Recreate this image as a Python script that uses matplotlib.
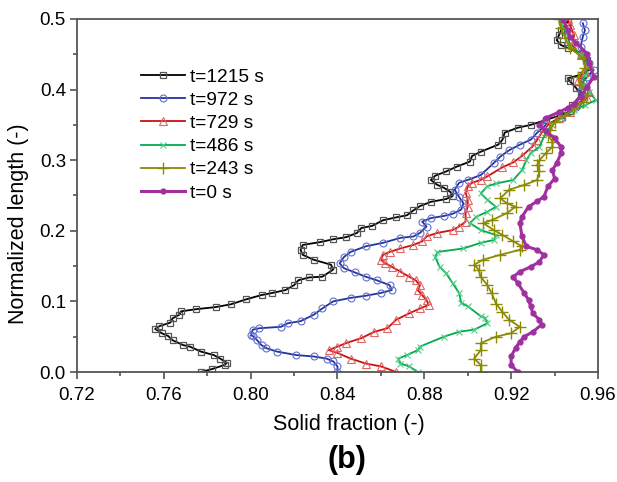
import numpy as np
import matplotlib
matplotlib.use("Agg")
import matplotlib.pyplot as plt
from matplotlib.ticker import MultipleLocator, FormatStrFormatter

plt.rcParams['font.family'] = ['Liberation Sans', 'DejaVu Sans']

# t = 1215 s
x_1215 = [0.777, 0.782, 0.788, 0.789, 0.786, 0.783, 0.777, 0.772, 0.769, 0.764,
          0.762, 0.759, 0.756, 0.758, 0.763, 0.764, 0.767, 0.768, 0.775, 0.784,
          0.791, 0.798, 0.805, 0.810, 0.816, 0.820, 0.822, 0.827, 0.833, 0.838,
          0.837, 0.829, 0.824, 0.823, 0.824, 0.832, 0.838, 0.844, 0.849, 0.851,
          0.856, 0.861, 0.867, 0.872, 0.875, 0.878, 0.883, 0.890, 0.893, 0.892,
          0.889, 0.886, 0.883, 0.885, 0.890, 0.895, 0.901, 0.902, 0.906, 0.914,
          0.916, 0.917, 0.923, 0.929, 0.936, 0.943, 0.947, 0.948, 0.952, 0.950,
          0.947, 0.946, 0.952, 0.956, 0.955, 0.952, 0.946, 0.943, 0.941, 0.942,
          0.943, 0.946]
y_1215 = [0.000, 0.004, 0.010, 0.013, 0.019, 0.024, 0.029, 0.036, 0.038, 0.045,
          0.051, 0.055, 0.061, 0.065, 0.070, 0.076, 0.081, 0.086, 0.089, 0.092,
          0.096, 0.103, 0.109, 0.112, 0.116, 0.123, 0.130, 0.134, 0.135, 0.145,
          0.152, 0.159, 0.166, 0.173, 0.180, 0.184, 0.188, 0.191, 0.197, 0.204,
          0.207, 0.215, 0.219, 0.222, 0.229, 0.235, 0.241, 0.245, 0.249, 0.255,
          0.261, 0.265, 0.272, 0.278, 0.284, 0.291, 0.298, 0.306, 0.312, 0.322,
          0.329, 0.339, 0.346, 0.350, 0.357, 0.364, 0.369, 0.378, 0.392, 0.402,
          0.412, 0.416, 0.421, 0.428, 0.442, 0.451, 0.459, 0.463, 0.470, 0.477,
          0.484, 0.496]

# t = 972 s
x_972 = [0.840, 0.840, 0.838, 0.835, 0.829, 0.821, 0.812, 0.807, 0.805, 0.803,
         0.801, 0.800, 0.801, 0.804, 0.814, 0.817, 0.823, 0.829, 0.833, 0.838,
         0.846, 0.853, 0.860, 0.865, 0.864, 0.858, 0.853, 0.848, 0.843, 0.841,
         0.843, 0.846, 0.853, 0.861, 0.869, 0.875, 0.878, 0.881, 0.879, 0.883,
         0.889, 0.893, 0.897, 0.898, 0.896, 0.894, 0.896, 0.900, 0.906, 0.912,
         0.915, 0.919, 0.924, 0.929, 0.932, 0.936, 0.943, 0.950, 0.953, 0.953,
         0.952, 0.953, 0.955, 0.958, 0.956, 0.953, 0.952, 0.953, 0.954, 0.953]
y_972 = [0.000, 0.008, 0.015, 0.019, 0.022, 0.024, 0.029, 0.034, 0.038, 0.045,
         0.051, 0.052, 0.060, 0.062, 0.064, 0.069, 0.072, 0.081, 0.090, 0.100,
         0.105, 0.108, 0.112, 0.116, 0.123, 0.130, 0.135, 0.141, 0.147, 0.154,
         0.163, 0.170, 0.178, 0.183, 0.190, 0.192, 0.197, 0.206, 0.213, 0.218,
         0.221, 0.224, 0.230, 0.239, 0.248, 0.258, 0.268, 0.272, 0.279, 0.296,
         0.305, 0.314, 0.322, 0.329, 0.339, 0.350, 0.360, 0.376, 0.381, 0.390,
         0.399, 0.411, 0.418, 0.428, 0.438, 0.447, 0.461, 0.475, 0.484, 0.494]

# t = 729 s
x_729 = [0.867, 0.860, 0.853, 0.846, 0.840, 0.836, 0.840, 0.844, 0.851, 0.857,
         0.863, 0.867, 0.873, 0.878, 0.882, 0.881, 0.879, 0.877, 0.878, 0.876,
         0.873, 0.869, 0.865, 0.862, 0.860, 0.861, 0.864, 0.869, 0.875, 0.879,
         0.881, 0.886, 0.893, 0.896, 0.899, 0.899, 0.900, 0.900, 0.899, 0.900,
         0.902, 0.906, 0.909, 0.916, 0.921, 0.925, 0.930, 0.932, 0.934, 0.937,
         0.942, 0.947, 0.949, 0.955, 0.956, 0.953, 0.951, 0.954, 0.956, 0.952,
         0.948, 0.949, 0.947, 0.946]
y_729 = [0.000, 0.008, 0.012, 0.019, 0.027, 0.031, 0.036, 0.041, 0.048, 0.057,
         0.062, 0.074, 0.083, 0.090, 0.095, 0.102, 0.109, 0.116, 0.123, 0.130,
         0.135, 0.142, 0.149, 0.154, 0.159, 0.166, 0.170, 0.175, 0.180, 0.185,
         0.192, 0.197, 0.201, 0.206, 0.213, 0.225, 0.234, 0.244, 0.254, 0.263,
         0.268, 0.272, 0.277, 0.290, 0.297, 0.306, 0.320, 0.329, 0.339, 0.350,
         0.360, 0.368, 0.378, 0.388, 0.397, 0.407, 0.414, 0.425, 0.435, 0.449,
         0.463, 0.477, 0.492, 0.500]

# t = 486 s
x_486 = [0.877, 0.873, 0.869, 0.868, 0.872, 0.877, 0.878, 0.889, 0.896, 0.903,
         0.909, 0.908, 0.906, 0.900, 0.897, 0.896, 0.893, 0.890, 0.887, 0.885,
         0.886, 0.898, 0.906, 0.912, 0.913, 0.906, 0.901, 0.904, 0.909, 0.913,
         0.909, 0.906, 0.909, 0.913, 0.921, 0.925, 0.927, 0.929, 0.933, 0.936,
         0.939, 0.943, 0.949, 0.954, 0.959, 0.956, 0.953, 0.954, 0.956, 0.952,
         0.947, 0.946, 0.943, 0.943]
y_486 = [0.000, 0.008, 0.012, 0.019, 0.024, 0.031, 0.036, 0.050, 0.057, 0.060,
         0.069, 0.077, 0.079, 0.093, 0.098, 0.112, 0.126, 0.140, 0.149, 0.163,
         0.170, 0.175, 0.183, 0.187, 0.194, 0.201, 0.211, 0.220, 0.227, 0.234,
         0.244, 0.253, 0.263, 0.267, 0.272, 0.286, 0.300, 0.310, 0.319, 0.339,
         0.350, 0.360, 0.371, 0.378, 0.385, 0.397, 0.407, 0.421, 0.435, 0.449,
         0.463, 0.477, 0.492, 0.500]

# t = 243 s
x_243 = [0.906, 0.906, 0.903, 0.906, 0.906, 0.913, 0.920, 0.924, 0.919, 0.916,
         0.913, 0.911, 0.909, 0.906, 0.905, 0.903, 0.907, 0.915, 0.924, 0.925,
         0.921, 0.916, 0.912, 0.907, 0.911, 0.918, 0.922, 0.918, 0.915, 0.919,
         0.926, 0.932, 0.933, 0.932, 0.933, 0.936, 0.939, 0.939, 0.937, 0.938,
         0.940, 0.945, 0.949, 0.953, 0.955, 0.952, 0.951, 0.954, 0.953, 0.947,
         0.945, 0.943, 0.942]
y_243 = [0.000, 0.010, 0.019, 0.031, 0.041, 0.050, 0.055, 0.064, 0.074, 0.085,
         0.097, 0.112, 0.123, 0.135, 0.145, 0.152, 0.159, 0.166, 0.173, 0.178,
         0.185, 0.194, 0.201, 0.211, 0.215, 0.225, 0.234, 0.239, 0.246, 0.258,
         0.265, 0.272, 0.284, 0.293, 0.300, 0.310, 0.319, 0.326, 0.336, 0.343,
         0.354, 0.364, 0.374, 0.382, 0.392, 0.407, 0.418, 0.431, 0.445, 0.459,
         0.473, 0.487, 0.500]

# t = 0 s
x_0 = [0.923, 0.920, 0.920, 0.922, 0.924, 0.926, 0.930, 0.934, 0.933, 0.930,
       0.929, 0.928, 0.926, 0.923, 0.921, 0.924, 0.929, 0.933, 0.935, 0.932,
       0.927, 0.925, 0.924, 0.925, 0.928, 0.932, 0.935, 0.937, 0.940, 0.939,
       0.941, 0.943, 0.943, 0.940, 0.936, 0.933, 0.936, 0.942, 0.946, 0.949,
       0.952, 0.955, 0.958, 0.956, 0.955, 0.950, 0.947, 0.946, 0.944]
y_0 = [0.000, 0.010, 0.022, 0.034, 0.043, 0.050, 0.057, 0.067, 0.074, 0.083,
       0.093, 0.102, 0.112, 0.126, 0.135, 0.142, 0.149, 0.156, 0.166, 0.173,
       0.178, 0.192, 0.211, 0.220, 0.234, 0.242, 0.248, 0.263, 0.274, 0.286,
       0.296, 0.310, 0.319, 0.331, 0.341, 0.350, 0.360, 0.368, 0.374, 0.380,
       0.390, 0.404, 0.418, 0.437, 0.451, 0.466, 0.475, 0.484, 0.499]

fig = plt.figure(figsize=(6.17, 4.82), dpi=100)
ax = fig.add_axes([0.1248, 0.2282, 0.8444, 0.7324])

ax.plot(x_1215, y_1215, color='black', lw=1.3, marker='s', ms=5,
        mfc='none', mec='#555555', mew=0.9, label='t=1215 s')
ax.plot(x_972, y_972, color='#25339c', lw=1.3, marker='o', ms=5,
        mfc='none', mec='#6070cc', mew=0.8, label='t=972 s')
ax.plot(x_729, y_729, color='#cc1010', lw=1.3, marker='^', ms=5.5,
        mfc='none', mec='#e06666', mew=0.8, label='t=729 s')
ax.plot(x_486, y_486, color='#00aa50', lw=1.3, marker='x', ms=5,
        mec='#55cc88', mew=0.8, label='t=486 s')
ax.plot(x_243, y_243, color='#8c8a00', lw=1.3, marker='+', ms=8,
        mec='#8c8a00', mew=1.0, label='t=243 s')
ax.plot(x_0, y_0, color='#a0309f', lw=2.2, marker='o', ms=3.5,
        mfc='#a0309f', mec='#a0309f', label='t=0 s')

ax.set_xlim(0.72, 0.96)
ax.set_ylim(0.0, 0.5)
ax.xaxis.set_major_locator(MultipleLocator(0.04))
ax.xaxis.set_minor_locator(MultipleLocator(0.02))
ax.yaxis.set_major_locator(MultipleLocator(0.1))
ax.yaxis.set_minor_locator(MultipleLocator(0.05))
ax.xaxis.set_major_formatter(FormatStrFormatter('%.2f'))
ax.yaxis.set_major_formatter(FormatStrFormatter('%.1f'))
ax.tick_params(which='both', direction='out', top=False, right=False,
               color='#444444', width=1.1)
ax.tick_params(which='major', length=5, labelsize=13.5)
ax.tick_params(axis='x', which='major', pad=6)
ax.tick_params(axis='y', which='major', pad=3)
ax.tick_params(which='minor', length=3)
for s in ax.spines.values():
    s.set_color('#555555')
    s.set_linewidth(1.3)

ax.set_xlabel('Solid fraction (-)', fontsize=15.5)
ax.set_ylabel('Normalized length (-)', fontsize=15.5)
ax.xaxis.set_label_coords(0.521, -0.118)
ax.yaxis.set_label_coords(-0.092, 0.42)
fig.text(0.562, 0.046, '(b)', fontsize=22, fontweight='bold',
         ha='center', va='center')

ax.legend(loc='upper left', bbox_to_anchor=(0.122, 0.86), frameon=False,
          fontsize=13.8, handlelength=2.3, handletextpad=0.3, labelspacing=0.3,
          borderaxespad=0, borderpad=0, numpoints=1)

fig.savefig('out.png', dpi=100)
